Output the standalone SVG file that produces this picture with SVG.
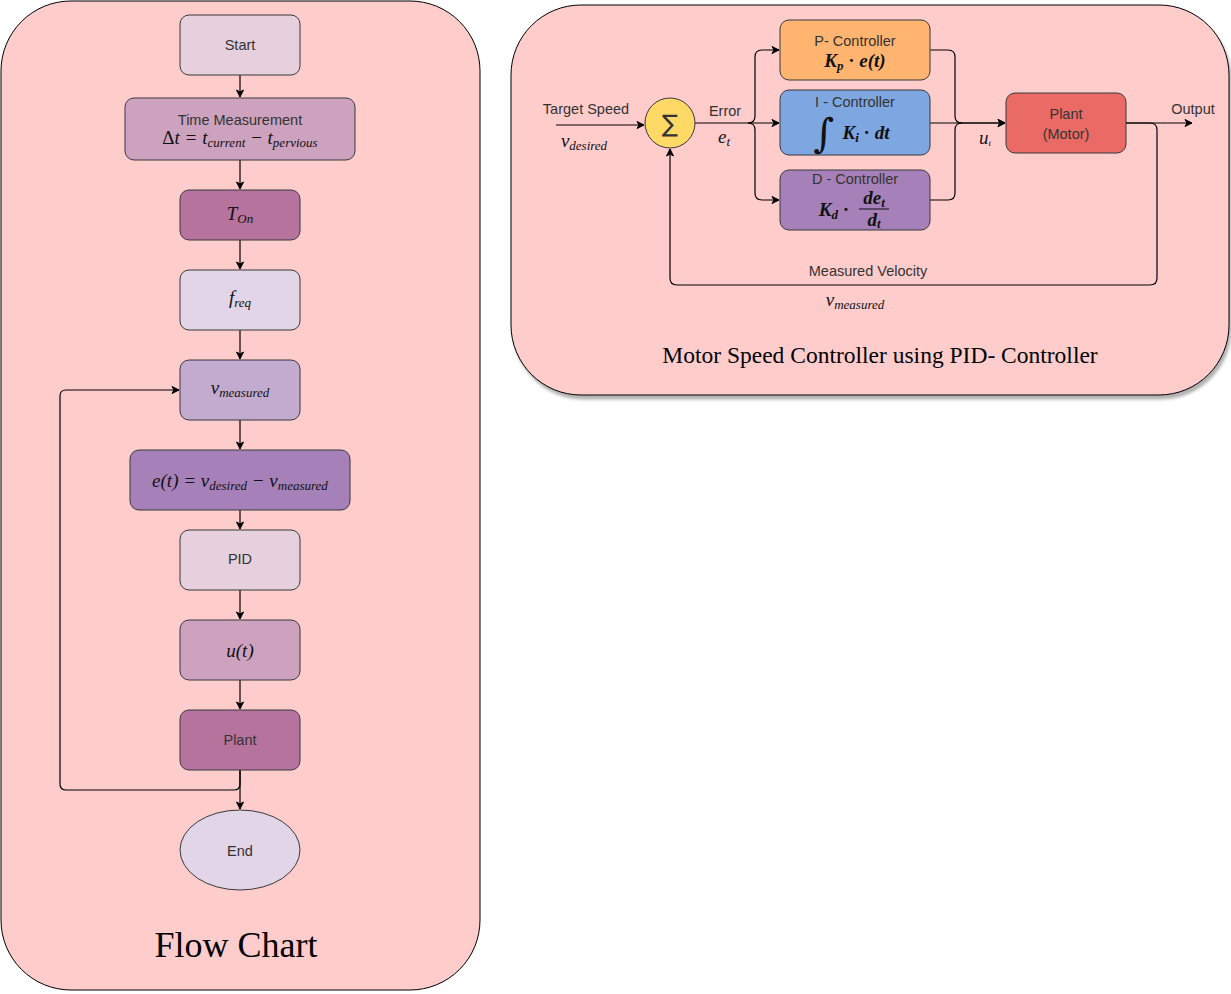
<svg xmlns="http://www.w3.org/2000/svg" width="1231" height="994" viewBox="0 0 1231 994">
<defs>
<marker id="arr" markerWidth="10" markerHeight="10" refX="8" refY="5" orient="auto" markerUnits="userSpaceOnUse">
<path d="M1,1.5 L8,5 L1,8.5 L3,5 Z" fill="#000" stroke="#000" stroke-width="1"/>
</marker>
<filter id="sh" x="-5%" y="-5%" width="110%" height="115%">
<feDropShadow dx="2" dy="4" stdDeviation="1.5" flood-color="#000" flood-opacity="0.3"/>
</filter>
</defs>
<style>
.box{stroke:#36393d;stroke-width:1}
.t{font-family:"Liberation Sans",Arial,sans-serif;font-size:14.5px;fill:#333;text-anchor:middle}
.m{font-family:"Liberation Serif","Times New Roman",serif;font-style:italic;font-size:19px;fill:#111;text-anchor:middle}
.sub{font-size:13px}
.c{fill:none;stroke:#000;stroke-width:1.2}
</style>
<rect x="0" y="0" width="1231" height="994" fill="#fff"/>
<g id="flowchart-container">
<rect x="1" y="1" width="479" height="989" rx="70" fill="#FFCCCC" stroke="#000" stroke-width="1"/>
<text x="236" y="957" font-family="'Liberation Serif','Times New Roman',serif" font-size="36" text-anchor="middle" fill="#000">Flow Chart</text>
</g>
<g id="pid-container">
<rect x="511" y="5" width="718" height="390" rx="70" fill="#FFCCCC" stroke="#000" stroke-width="1" filter="url(#sh)"/>
<text x="880" y="363" font-family="'Liberation Serif','Times New Roman',serif" font-size="23.5" text-anchor="middle" fill="#000">Motor Speed Controller using PID- Controller</text>
</g>
<g id="connectors">
<line class="c" x1="240" y1="75" x2="240" y2="97" marker-end="url(#arr)"/>
<line class="c" x1="240" y1="160" x2="240" y2="189" marker-end="url(#arr)"/>
<line class="c" x1="240" y1="240" x2="240" y2="269" marker-end="url(#arr)"/>
<line class="c" x1="240" y1="330" x2="240" y2="359" marker-end="url(#arr)"/>
<line class="c" x1="240" y1="420" x2="240" y2="449" marker-end="url(#arr)"/>
<line class="c" x1="240" y1="510" x2="240" y2="529" marker-end="url(#arr)"/>
<line class="c" x1="240" y1="590" x2="240" y2="619" marker-end="url(#arr)"/>
<line class="c" x1="240" y1="680" x2="240" y2="709" marker-end="url(#arr)"/>
<line class="c" x1="240" y1="770" x2="240" y2="809" marker-end="url(#arr)"/>
<path class="c" d="M240,770 V784 Q240,790 234,790 H66 Q60,790 60,784 V396 Q60,390 66,390 H179" marker-end="url(#arr)"/>
<line class="c" x1="556" y1="125" x2="644" y2="125" marker-end="url(#arr)"/>
<path class="c" d="M695,123 H779" marker-end="url(#arr)" stroke-width="1.5"/>
<path class="c" d="M748,123 Q755,123 755,116 V57 Q755,50 762,50 H779" marker-end="url(#arr)"/>
<path class="c" d="M748,123 Q755,123 755,130 V193 Q755,200 762,200 H779" marker-end="url(#arr)"/>
<path class="c" d="M930,50 H948 Q955,50 955,57 V116 Q955,123 962,123 H1005" marker-end="url(#arr)"/>
<path class="c" d="M930,123 H1005" marker-end="url(#arr)"/>
<path class="c" d="M930,200 H948 Q955,200 955,193 V130 Q955,123 962,123"/>
<path class="c" d="M1126,123 H1192" marker-end="url(#arr)"/>
<path class="c" d="M1126,123 H1150 Q1157,123 1157,130 V278 Q1157,285 1150,285 H677 Q670,285 670,278 V149" marker-end="url(#arr)"/>
</g>
<g id="start"><rect class="box" x="180" y="15" width="120" height="60" rx="9" fill="#E6D0DE"/><text class="t" x="240" y="50">Start</text></g>
<g id="time-measurement"><rect class="box" x="125" y="98" width="230" height="62" rx="9" fill="#CDA2BE"/>
<text class="t" x="240" y="125">Time Measurement</text>
<text class="m" x="240" y="144"><tspan font-style="normal">Δ</tspan>t = t<tspan class="sub" dy="3">current</tspan><tspan dy="-3"> − t</tspan><tspan class="sub" dy="3">pervious</tspan></text></g>
<g id="t-on"><rect class="box" x="180" y="190" width="120" height="50" rx="9" fill="#B5739D"/>
<text class="m" x="240" y="220">T<tspan class="sub" dy="3">On</tspan></text></g>
<g id="f-req"><rect class="box" x="180" y="270" width="120" height="60" rx="9" fill="#E1D5E7"/>
<text class="m" x="240" y="304">f<tspan class="sub" dy="3">req</tspan></text></g>
<g id="v-measured"><rect class="box" x="180" y="360" width="120" height="60" rx="9" fill="#C3ABD0"/>
<text class="m" x="240" y="394">v<tspan class="sub" dy="3">measured</tspan></text></g>
<g id="error"><rect class="box" x="130" y="450" width="220" height="60" rx="9" fill="#A680B8"/>
<text class="m" x="240" y="487" font-size="21">e(t) = v<tspan class="sub" dy="3" font-size="14">desired</tspan><tspan dy="-3"> − v</tspan><tspan class="sub" dy="3" font-size="14">measured</tspan></text></g>
<g id="pid"><rect class="box" x="180" y="530" width="120" height="60" rx="9" fill="#E6D0DE"/><text class="t" x="240" y="564" font-size="12">PID</text></g>
<g id="u-t"><rect class="box" x="180" y="620" width="120" height="60" rx="9" fill="#CDA2BE"/><text class="m" x="240" y="657" font-size="20">u(t)</text></g>
<g id="plant"><rect class="box" x="180" y="710" width="120" height="60" rx="9" fill="#B5739D"/><text class="t" x="240" y="745">Plant</text></g>
<g id="end"><ellipse class="box" cx="240" cy="850" rx="60" ry="40" fill="#E1D5E7"/><text class="t" x="240" y="856">End</text></g>

<g id="target-speed"><text class="t" x="586" y="114">Target Speed</text><text class="m" x="584" y="147" font-size="16">v<tspan class="sub" dy="3" font-size="12">desired</tspan></text></g>
<g id="sum"><circle class="box" cx="670" cy="123" r="25" fill="#FFD966"/><text x="670" y="132" font-family="'DejaVu Sans',sans-serif" font-size="24" text-anchor="middle" fill="#333">∑</text></g>
<g id="error-label"><text class="t" x="725" y="116">Error</text><text class="m" x="724" y="143" font-size="15">e<tspan class="sub" dy="3" font-size="10">t</tspan></text></g>
<g id="p-controller"><rect class="box" x="780" y="20" width="150" height="60" rx="9" fill="#FFB570"/>
<text class="t" x="855" y="46">P- Controller</text>
<text class="m" x="855" y="67" font-size="19" font-weight="bold">K<tspan class="sub" dy="3">p</tspan><tspan dy="-3" font-style="normal"> · </tspan>e(t)</text></g>
<g id="i-controller"><rect class="box" x="780" y="90" width="150" height="65" rx="9" fill="#7EA6E0"/>
<text class="t" x="855" y="107">I - Controller</text>
<text x="824" y="147" font-family="'DejaVu Serif',serif" font-size="40" font-style="italic" fill="#111" text-anchor="middle">∫</text>
<text class="m" x="866" y="139" font-size="19" font-weight="bold">K<tspan class="sub" dy="3">i</tspan><tspan dy="-3" font-style="normal"> · </tspan>dt</text></g>
<g id="d-controller"><rect class="box" x="780" y="170" width="150" height="60" rx="9" fill="#A680B8"/>
<text class="t" x="855" y="184">D - Controller</text>
<text class="m" x="834" y="216" font-size="19" font-weight="bold">K<tspan class="sub" dy="3">d</tspan><tspan dy="-3" font-style="normal"> ·</tspan></text>
<text class="m" x="874" y="204" font-size="17" font-weight="bold">de<tspan class="sub" dy="3" font-size="12">t</tspan></text>
<line x1="859" y1="209" x2="889" y2="209" stroke="#111" stroke-width="1"/>
<text class="m" x="874" y="226" font-size="17" font-weight="bold">d<tspan class="sub" dy="2" font-size="12">t</tspan></text></g>
<g id="plant-motor"><rect class="box" x="1006" y="93" width="120" height="60" rx="9" fill="#EA6B66"/>
<text class="t" x="1066" y="119">Plant</text><text class="t" x="1066" y="139">(Motor)</text></g>
<g id="u-label"><text class="m" x="985" y="144" font-size="12">u<tspan dy="2" font-size="9">t</tspan></text></g>
<g id="output-label"><text class="t" x="1193" y="114">Output</text></g>
<g id="measured-velocity"><text class="t" x="868" y="276">Measured Velocity</text>
<text class="m" x="855" y="306" font-size="16">v<tspan class="sub" dy="3" font-size="12">measured</tspan></text></g>
</svg>
